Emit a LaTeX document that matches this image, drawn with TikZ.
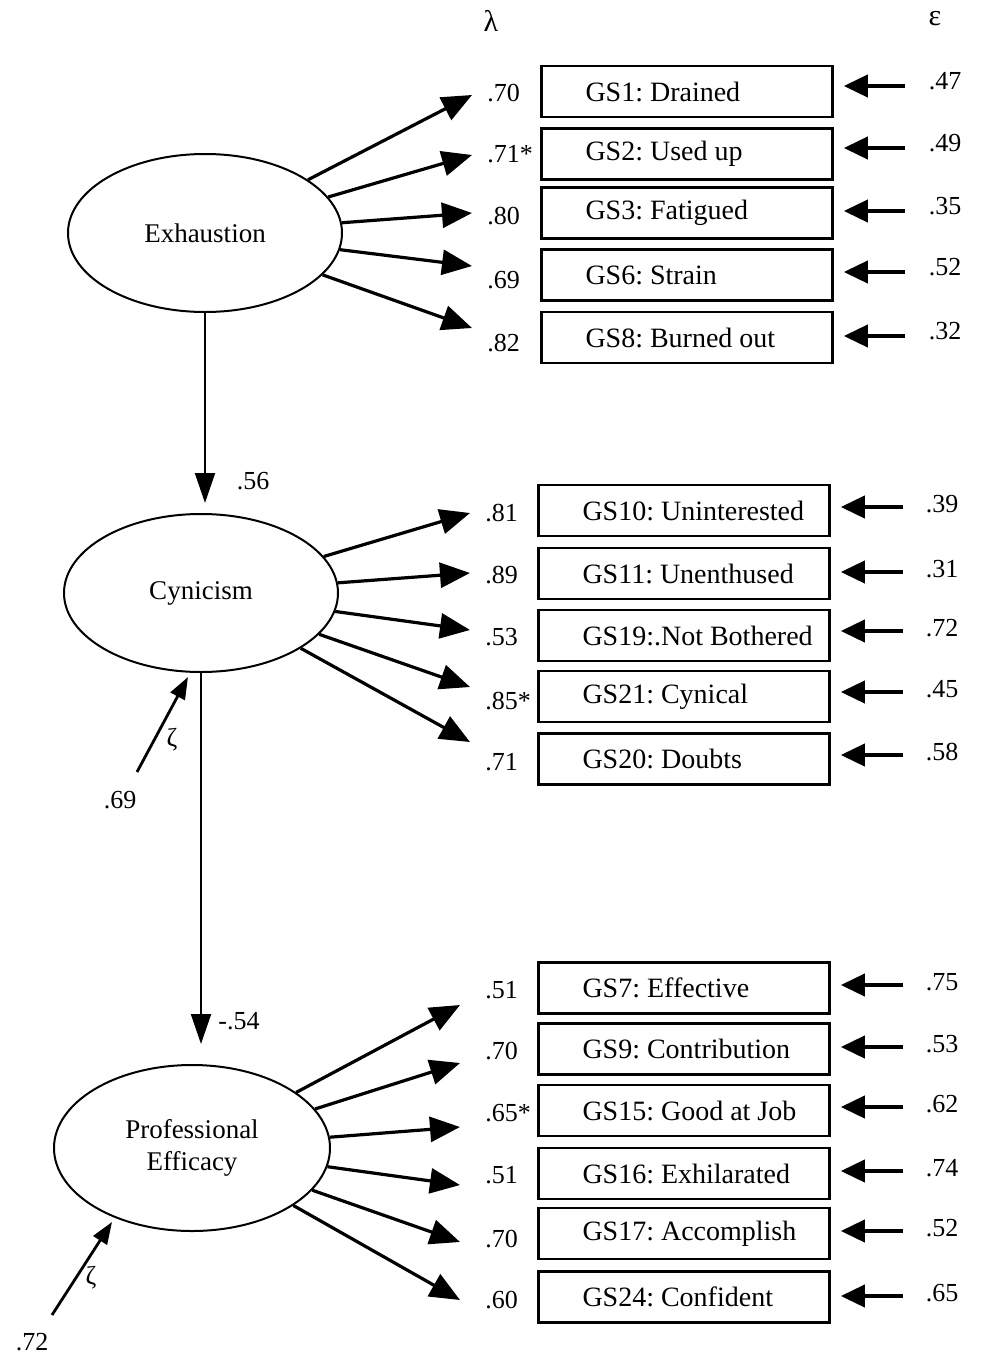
\documentclass[tikz,border=0pt]{standalone}
\usepackage{fontspec}
\setmainfont{Liberation Serif}
\usetikzlibrary{arrows.meta,shapes.geometric,calc}
\newcommand{\itemtext}[1]{\makebox[145.5pt][l]{\hspace*{22pt}#1}}
\frenchspacing
\begin{document}
\begin{tikzpicture}[x=0.5pt,y=-0.5pt,
  latent/.style={ellipse,draw,line width=1pt,minimum width=137pt,minimum height=79pt,inner sep=0pt,font=\fontsize{13.5}{16}\selectfont,align=center},
  item/.style={draw,line width=1.3pt,minimum width=145.5pt,minimum height=25.5pt,inner sep=0pt,font=\fontsize{14}{16}\selectfont},
  lam/.style={anchor=west,inner sep=0pt,font=\fontsize{13}{15}\selectfont},
  eps/.style={inner sep=0pt,font=\fontsize{13}{15}\selectfont},
  load/.style={line width=1.6pt,-{Triangle[length=15pt,width=12.5pt]}},
  struct/.style={line width=1pt,-{Triangle[length=15pt,width=10pt]}},
  zarr/.style={line width=1.4pt,-{Triangle[length=11pt,width=8pt]}},
  err/.style={line width=2pt,-{Triangle[length=12pt,width=11pt]},shorten >=5pt},
  lbl/.style={inner sep=0pt,font=\fontsize{13}{15}\selectfont}]
\useasboundingbox (0,0) rectangle (982,1360);

% headers
\node[lbl,font=\fontsize{15}{17}\selectfont] (lamhead) at (491,21) {λ};
\node[lbl,font=\fontsize{15}{17}\selectfont] (epshead) at (935,19) {ε};

% latent variables
\node[latent] (E) at (205,233) {Exhaustion};
\node[latent] (C) at (201,593) {Cynicism};
\node[latent,minimum width=138pt,minimum height=83pt] (P) at (192,1148) {Professional\\Efficacy};

% ---------- Exhaustion items
\foreach \n/\y/\t/\ty/\l/\ly/\ey/\e in {
  1/91.5/{GS1: Drained}/95/.70/93/86/.47,
  2/154/{GS2: Used up}/155/.71*/154/148/.49,
  3/213/{GS3: Fatigued}/213/.80/216/211/.35,
  4/275/{GS6: Strain}/266/.69/280/272/.52,
  5/337.5/{GS8: Burned out}/328/.82/343/336/.32}{
  \node[item] (b\n) at (687,\y) {\itemtext{\t}};
  \coordinate (t\n) at (472,\ty);
  \draw[load] (E) -- (t\n);
  \node[lam] (l\n) at (487,\ly) {\l};
  \coordinate (s\n) at (905,\ey);
  \draw[err] (s\n) -- (s\n -| b\n.east);
  \node[eps] (e\n) at (945,\ey-5) {\e};
}

% ---------- Cynicism items
\foreach \n/\y/\t/\ty/\l/\ly/\ey/\e in {
  6/510.5/{GS10: Uninterested}/513/.81/513/507/.39,
  7/573.5/{GS11: Unenthused}/573/.89/575/572/.31,
  8/635.5/{GS19:.Not Bothered}/630/.53/637/631/.72,
  9/696.5/{GS21: Cynical}/687/.85*/701/692/.45,
  10/759/{GS20: Doubts}/742/.71/762/755/.58}{
  \node[item] (b\n) at (684,\y) {\itemtext{\t}};
  \coordinate (t\n) at (470,\ty);
  \draw[load] (C) -- (t\n);
  \node[lam] (l\n) at (485,\ly) {\l};
  \coordinate (s\n) at (903,\ey);
  \draw[err] (s\n) -- (s\n -| b\n.east);
  \node[eps] (e\n) at (942,\ey-3) {\e};
}

% ---------- Professional Efficacy items
\foreach \n/\y/\t/\ty/\l/\ly/\ey/\e in {
  11/988/{GS7: Effective}/1005/.51/990/985/.75,
  12/1049/{GS9: Contribution}/1063/.70/1051/1047/.53,
  13/1110.5/{GS15: Good at Job}/1127/.65*/1113/1107/.62,
  14/1173.5/{GS16: Exhilarated}/1185/.51/1175/1171/.74,
  15/1233.5/{GS17: Accomplish}/1242/.70/1239/1231/.52,
  16/1297/{GS24: Confident}/1300/.60/1300/1296/.65}{
  \node[item] (b\n) at (684,\y) {\itemtext{\t}};
  \coordinate (t\n) at (460,\ty);
  \draw[load] (P) -- (t\n);
  \node[lam] (l\n) at (485,\ly) {\l};
  \coordinate (s\n) at (903,\ey);
  \draw[err] (s\n) -- (s\n -| b\n.east);
  \node[eps] (e\n) at (942,\ey-3) {\e};
}

% structural paths
\draw[struct,shorten >=5pt] (E.south) -- (E.south |- C.north);
\node[lbl] (g1) at (253,481) {.56};
\draw[struct,shorten >=10pt] (C.south) -- (C.south |- P.north);
\node[lbl] (g2) at (239,1021) {-.54};

% disturbances
\coordinate (z1) at (137,772);
\coordinate (zt1) at (188,677);
\draw[zarr] (z1) -- (zt1);
\node[lbl] (zeta1) at (172,740) {ζ};
\node[lbl] (zv1) at (120,800) {.69};

\coordinate (z2) at (52,1315);
\coordinate (zt2) at (112,1222);
\draw[zarr] (z2) -- (zt2);
\node[lbl] (zeta2) at (91,1278) {ζ};
\node[lbl] (zv2) at (32,1342) {.72};
\end{tikzpicture}
\end{document}
